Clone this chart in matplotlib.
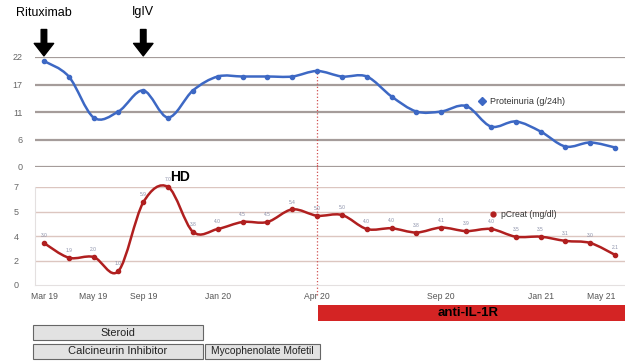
import numpy as np
import matplotlib.pyplot as plt
from matplotlib.path import Path
from matplotlib.patches import PathPatch, Rectangle
from matplotlib.transforms import blended_transform_factory

plt.rcParams['font.family'] = ['Liberation Sans', 'DejaVu Sans']

# monthly follow-up visits
visits = np.arange(24)
tick_pos = [0, 2, 4, 7, 11, 16, 20, 23]
tick_labels = ['Mar 19', 'May 19', 'Sep 19', 'Jan 20', 'Apr 20', 'Sep 20', 'Jan 21', 'May 21']

proteinuria = [21.2, 18.1, 9.9, 11.1, 15.3, 9.9, 15.3, 18.1, 18.1, 18.1, 18.1, 19.2,
               18.1, 18.1, 14.1, 11.1, 11.1, 12.2, 8.1, 9.1, 7.1, 4.1, 4.9, 3.9]
pcreat = [3.0, 1.95, 2.0, 1.0, 5.9, 7.0, 3.8, 4.0, 4.5, 4.5, 5.4, 4.95,
          5.0, 4.0, 4.05, 3.75, 4.1, 3.85, 4.0, 3.45, 3.45, 3.15, 3.0, 2.15]

top_ticks = [0, 5.5, 11, 16.5, 22]
top_tick_labels = ['0', '6', '11', '17', '22']
low_ticks = [0, 1.75, 3.5, 5.25, 7]
low_tick_labels = ['0', '2', '4', '5', '7']

# treatments: (label, start visit, end visit, row, font size)
treatments = [('Steroid', -0.45, 6.4, 0, 7.8), ('Calcineurin Inhibitor', -0.45, 6.4, 1, 8),
              ('Mycophenolate Mofetil', 6.5, 11.1, 1, 7.4)]
anti_il1r_start = 11.05
events = [('Rituximab', 0), ('IgIV', 4)]
hd_visit = 5


def smooth_path(x, y):
    # Catmull-Rom curve through the points, as cubic Bezier segments
    pts = np.column_stack([x, y]).astype(float)
    verts = [pts[0]]
    codes = [Path.MOVETO]
    n = len(pts)
    for i in range(n - 1):
        p0 = pts[max(i - 1, 0)]
        p1 = pts[i]
        p2 = pts[i + 1]
        p3 = pts[min(i + 2, n - 1)]
        verts += [p1 + (p2 - p0) / 6, p2 - (p3 - p1) / 6, p2]
        codes += [Path.CURVE4] * 3
    return Path(verts, codes)


fig = plt.figure(figsize=(6.25, 3.61), dpi=100)
W, H = 625, 361
xlim = (-0.36, 23.4)

ax1 = fig.add_axes([35 / W, 1 - 167 / H, 590 / W, 110 / H])
ax2 = fig.add_axes([35 / W, 1 - 285 / H, 590 / W, 98 / H])

# proteinuria panel
ax1.set_xlim(*xlim)
ax1.set_ylim(0, 22)
for t in top_ticks:
    ax1.axhline(t, color='#a59c9a', lw=1.6, zorder=1)
ax1.add_patch(PathPatch(smooth_path(visits, proteinuria), fill=False,
                        edgecolor='#3d68c4', lw=1.8, zorder=3, clip_on=False))
ax1.plot(visits, proteinuria, 'o', color='#3d68c4', ms=3, zorder=4, clip_on=False)
ax1.set_yticks(top_ticks, top_tick_labels)
ax1.set_xticks([])
ax1.tick_params(axis='y', length=0, pad=9, labelsize=6.5, labelcolor='#666666')
for s in ax1.spines.values():
    s.set_visible(False)
ax1.plot([0.758], [0.6], 'D', color='#3d68c4', ms=4, transform=ax1.transAxes, clip_on=False)
ax1.text(0.772, 0.6, 'Proteinuria (g/24h)', transform=ax1.transAxes, fontsize=6.5,
         color='#333333', va='center')

# event arrows above the proteinuria curve
for name, v in events:
    ax1.annotate('', xy=(v, 1.01), xycoords=('data', 'axes fraction'),
                 xytext=(v, 1.25), textcoords=('data', 'axes fraction'),
                 arrowprops=dict(width=4, headwidth=14, headlength=9, color='black'))
    ax1.text(v, 1.35, name, transform=ax1.get_xaxis_transform(), ha='center',
             va='bottom', fontsize=9)

# creatinine panel
ax2.set_xlim(*xlim)
ax2.set_ylim(0, 7)
for t in low_ticks[1:]:
    ax2.axhline(t, color='#dcc6c0', lw=1.0, zorder=1)
ax2.add_patch(PathPatch(smooth_path(visits, pcreat), fill=False,
                        edgecolor='#b01f1f', lw=1.8, zorder=3, clip_on=False))
ax2.plot(visits, pcreat, 'o', color='#b01f1f', ms=3, zorder=4, clip_on=False)
for v, c in zip(visits, pcreat):
    ax2.text(v, c + 0.35, f'{c:.1f}', ha='center', va='bottom', fontsize=3.5, color='#8a8fa8')
ax2.set_yticks(low_ticks, low_tick_labels)
ax2.set_xticks(tick_pos, tick_labels)
ax2.get_xticklabels()[-1].set_ha('right')
ax2.tick_params(axis='y', length=0, pad=12, labelsize=6.5, labelcolor='#666666')
ax2.tick_params(axis='x', length=0, pad=5, labelsize=6.2, labelcolor='#555555')
for s in ['top', 'right']:
    ax2.spines[s].set_visible(False)
ax2.spines['left'].set_color('#e4e0e0')
ax2.spines['bottom'].set_color('#e4e0e0')
ax2.plot([0.777], [0.72], 'o', color='#b01f1f', ms=3.5, transform=ax2.transAxes, clip_on=False)
ax2.text(0.79, 0.72, 'pCreat (mg/dl)', transform=ax2.transAxes, fontsize=6.2,
         color='#333333', va='center')
ax2.text(hd_visit + 0.5, 7.2, 'HD', ha='center', va='bottom', fontsize=10, fontweight='bold')

# dotted marker at start of anti-IL-1R, across both panels
for ax, lo, hi in [(ax1, 0, 0.9), (ax2, -0.1, 1.23)]:
    ax.plot([anti_il1r_start - 0.05] * 2, [lo, hi], ls=':', color='#d05050', lw=0.9,
            transform=ax.get_xaxis_transform(), clip_on=False, zorder=2)

# treatment bars below the time axis
bt = blended_transform_factory(ax2.transData, fig.transFigure)
fig.patches.append(Rectangle((anti_il1r_start, 1 - 321 / H), 13, 16 / H, transform=bt,
                             facecolor='#d42424', edgecolor='none'))
fig.text(468 / W, 1 - 313 / H, 'anti-IL-1R', ha='center', va='center', fontsize=9.5,
         fontweight='bold')
for label, start, end, row, fs in treatments:
    y0 = 1 - (340 + row * 19) / H
    fig.patches.append(Rectangle((start, y0), end - start, 15 / H, transform=bt,
                                 facecolor='#e2e2e2', edgecolor='#666666', lw=0.8))
    mid = bt.transform(((start + end) / 2, y0 + 7.5 / H))
    fig.text(mid[0] / W, mid[1] / H, label, ha='center', va='center',
             fontsize=fs, color='#222222')

fig.savefig('out.png', dpi=100)
